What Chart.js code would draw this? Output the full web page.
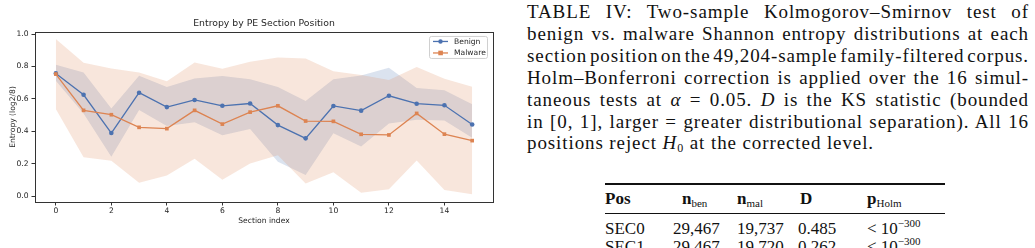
<!DOCTYPE html>
<html>
<head>
<meta charset="utf-8">
<script src="https://cdn.jsdelivr.net/npm/chart.js@4.4.0/dist/chart.umd.min.js"></script>
<style>
    body { margin: 0; background: #fff; width: 1035px; height: 248px; overflow: hidden; position: relative; }
    #chartBox { position: absolute; left: 0; top: 0; width: 510px; height: 248px; }
    #caption { position: absolute; left: 527px; top: 1px; width: 502px; font-family: 'Liberation Serif', serif; font-size: 19px; line-height: 21.9px; letter-spacing: 0.9px; color: #111; }
    #caption .ln { display: block; white-space: nowrap; }
    #caption .ln span { display: inline-block; white-space: nowrap; }
    #caption sub { font-size: 12px; vertical-align: -3px; line-height: 0; }
    .tbl { position: absolute; font-family: 'Liberation Serif', serif; font-size: 17px; line-height: 20px; color: #111; white-space: nowrap; }
    .tbl sub { font-size: 11px; vertical-align: -3px; line-height: 0; font-weight: normal; }
    .tbl sup { font-size: 11px; vertical-align: 7px; line-height: 0; }
    .rule { position: absolute; left: 605px; width: 340px; background: #111; }
</style>
</head>
<body>
<div id="chartBox"><canvas id="entropyChart" width="510" height="248"></canvas></div>

<div id="caption">
    <div class="ln j"><span>TABLE IV: Two-sample Kolmogorov–Smirnov test of</span></div>
    <div class="ln j"><span>benign vs. malware Shannon entropy distributions at each</span></div>
    <div class="ln j"><span>section position on the 49,204-sample family-filtered corpus.</span></div>
    <div class="ln j"><span>Holm–Bonferroni correction is applied over the 16 simul-</span></div>
    <div class="ln j"><span>taneous tests at <i>α</i> = 0.05. <i>D</i> is the KS statistic (bounded</span></div>
    <div class="ln j"><span>in [0, 1], larger = greater distributional separation). All 16</span></div>
    <div class="ln"><span>positions reject <i>H</i><sub>0</sub> at the corrected level.</span></div>
</div>

<div class="rule" style="top:183px;height:1.6px"></div>
<div class="rule" style="top:213px;height:1px"></div>
<div id="table"></div>

<script>
// Section positions and per-position entropy summaries
const sectionIdx = [0, 1, 2, 3, 4, 5, 6, 7, 8, 9, 10, 11, 12, 13, 14, 15];
const benignMean = [0.757, 0.625, 0.389, 0.638, 0.549, 0.593, 0.557, 0.571, 0.438, 0.356, 0.556, 0.527, 0.619, 0.570, 0.560, 0.442];
const benignUpper = [0.811, 0.762, 0.541, 0.743, 0.673, 0.726, 0.741, 0.721, 0.673, 0.586, 0.721, 0.744, 0.792, 0.667, 0.653, 0.566];
const benignLower = [0.711, 0.510, 0.243, 0.531, 0.432, 0.456, 0.375, 0.414, 0.212, 0.130, 0.387, 0.306, 0.447, 0.471, 0.467, 0.359];
const malwareMean = [0.753, 0.529, 0.502, 0.424, 0.416, 0.529, 0.444, 0.518, 0.557, 0.463, 0.461, 0.381, 0.377, 0.510, 0.382, 0.342];
const malwareUpper = [0.969, 0.823, 0.788, 0.763, 0.709, 0.825, 0.786, 0.829, 0.856, 0.849, 0.770, 0.747, 0.716, 0.797, 0.724, 0.675];
const malwareLower = [0.537, 0.239, 0.218, 0.082, 0.126, 0.230, 0.101, 0.200, 0.252, 0.078, 0.146, 0.020, 0.042, 0.220, 0.037, 0.011];

const xTicks = [0, 2, 4, 6, 8, 10, 12, 14];
const yTicks = [0.0, 0.2, 0.4, 0.6, 0.8, 1.0];

// Table rows
const tableHeader = ['<b>Pos</b>', '<b>n</b><sub>ben</sub>', '<b>n</b><sub>mal</sub>', '<b>D</b>', '<b>p</b><sub>Holm</sub>'];
const tableRows = [
    ['SEC0', '29,467', '19,737', '0.485', '&lt; 10<sup>−300</sup>'],
    ['SEC1', '29,467', '19,720', '0.262', '&lt; 10<sup>−300</sup>']
];
const headerLeft = [605, 682, 737, 800, 867];
const rowLeft = [605, 673, 737, 798, 867];

const BLUE = '#4c72b0';
const ORANGE = '#dd8452';

function toPoints(values) {
    return values.map((v, i) => ({ x: sectionIdx[i], y: v }));
}

// Stretch or squeeze word spacing so each justified line spans the column
function justifyCaption() {
    const width = document.getElementById('caption').clientWidth;
    document.querySelectorAll('#caption .j span').forEach(span => {
        const natural = span.getBoundingClientRect().width;
        const spaces = (span.textContent.match(/ /g) || []).length;
        if (spaces > 0) {
            span.style.wordSpacing = ((width - natural) / spaces) + 'px';
        }
    });
}

// Build the table as positioned text
function buildTable() {
    const table = document.getElementById('table');
    const rowCenters = [199, 229, 247];
    const allRows = [tableHeader].concat(tableRows);
    allRows.forEach((row, r) => {
        row.forEach((cell, c) => {
            const span = document.createElement('div');
            span.className = 'tbl';
            span.style.left = (r === 0 ? headerLeft[c] : rowLeft[c]) + 'px';
            span.style.top = (rowCenters[r] - 10) + 'px';
            span.innerHTML = cell;
            table.appendChild(span);
        });
    });
}

// Draws the axes frame and the in-plot legend box
const framePlugin = {
    id: 'frame',
    afterDraw(chart) {
        const ctx = chart.ctx;
        const a = chart.chartArea;
        ctx.save();
        ctx.strokeStyle = '#333';
        ctx.lineWidth = 1;
        ctx.strokeRect(Math.round(a.left) + 0.5, Math.round(a.top) + 0.5,
            Math.round(a.right - a.left), Math.round(a.bottom - a.top));

        // legend
        const boxW = 58, boxH = 22;
        const bx = a.right - 6 - boxW, by = a.top + 4;
        ctx.fillStyle = 'rgba(255,255,255,0.8)';
        ctx.strokeStyle = '#d0d0d0';
        ctx.beginPath();
        ctx.roundRect(bx + 0.5, by + 0.5, boxW, boxH, 2);
        ctx.fill();
        ctx.stroke();

        const items = [
            { text: 'Benign', color: BLUE, style: 'circle' },
            { text: 'Malware', color: ORANGE, style: 'rect' }
        ];
        ctx.font = '7.6px "DejaVu Sans"';
        ctx.textBaseline = 'middle';
        items.forEach((item, i) => {
            const y = by + 5.5 + i * 11.5;
            ctx.strokeStyle = item.color;
            ctx.fillStyle = item.color;
            ctx.lineWidth = 1.3;
            ctx.beginPath();
            ctx.moveTo(bx + 4, y);
            ctx.lineTo(bx + 19, y);
            ctx.stroke();
            if (item.style === 'circle') {
                ctx.beginPath();
                ctx.arc(bx + 11.5, y, 2.2, 0, Math.PI * 2);
                ctx.fill();
            } else {
                ctx.fillRect(bx + 9.3, y - 2.3, 4.6, 4.6);
            }
            ctx.fillStyle = '#262626';
            ctx.fillText(item.text, bx + 25, y + 0.5);
        });
        ctx.restore();
    }
};

document.addEventListener('DOMContentLoaded', function() {
    justifyCaption();
    buildTable();

    Chart.defaults.font.family = '"DejaVu Sans", sans-serif';
    Chart.defaults.color = '#262626';

    const ctx = document.getElementById('entropyChart').getContext('2d');
    new Chart(ctx, {
        type: 'line',
        data: {
            datasets: [
                {
                    label: 'Malware',
                    data: toPoints(malwareMean),
                    borderColor: ORANGE,
                    backgroundColor: ORANGE,
                    borderWidth: 1.3,
                    pointStyle: 'rect',
                    pointRadius: 2.6,
                    pointBorderWidth: 0,
                    fill: false,
                    order: 0
                },
                {
                    label: 'Benign',
                    data: toPoints(benignMean),
                    borderColor: BLUE,
                    backgroundColor: BLUE,
                    borderWidth: 1.3,
                    pointStyle: 'circle',
                    pointRadius: 2.3,
                    pointBorderWidth: 0,
                    fill: false,
                    order: 1
                },
                {
                    label: 'benign upper',
                    data: toPoints(benignUpper),
                    borderColor: 'transparent',
                    borderWidth: 0,
                    pointRadius: 0,
                    backgroundColor: 'rgba(76, 114, 176, 0.2)',
                    fill: '+1',
                    order: 3
                },
                {
                    label: 'benign lower',
                    data: toPoints(benignLower),
                    borderColor: 'transparent',
                    borderWidth: 0,
                    pointRadius: 0,
                    fill: false,
                    order: 3
                },
                {
                    label: 'malware upper',
                    data: toPoints(malwareUpper),
                    borderColor: 'transparent',
                    borderWidth: 0,
                    pointRadius: 0,
                    backgroundColor: 'rgba(221, 132, 82, 0.2)',
                    fill: '+1',
                    order: 2
                },
                {
                    label: 'malware lower',
                    data: toPoints(malwareLower),
                    borderColor: 'transparent',
                    borderWidth: 0,
                    pointRadius: 0,
                    fill: false,
                    order: 2
                }
            ]
        },
        options: {
            responsive: false,
            animation: false,
            devicePixelRatio: 1,
            layout: { padding: { left: 0, right: 17, top: 0, bottom: 20 } },
            plugins: {
                legend: { display: false },
                tooltip: { enabled: false },
                title: {
                    display: true,
                    text: 'Entropy by PE Section Position',
                    fullSize: false,
                    font: { size: 9.3, weight: 'normal' },
                    padding: { top: 18, bottom: 2.8 }
                }
            },
            scales: {
                x: {
                    type: 'linear',
                    min: -0.75,
                    max: 15.75,
                    afterBuildTicks: scale => { scale.ticks = xTicks.map(v => ({ value: v })); },
                    afterFit: scale => { scale.height = 26; },
                    grid: { display: true, drawOnChartArea: false, tickLength: 3.5, color: '#333' },
                    border: { display: false },
                    ticks: { font: { size: 7.6 }, padding: 1, maxRotation: 0 },
                    title: { display: true, text: 'Section index', font: { size: 7.6 }, padding: { top: 0, bottom: 2 } }
                },
                y: {
                    min: -0.037,
                    max: 1.013,
                    afterBuildTicks: scale => { scale.ticks = yTicks.map(v => ({ value: v })); },
                    afterFit: scale => { scale.width = 35; },
                    grid: { display: true, drawOnChartArea: false, tickLength: 3.5, color: '#333' },
                    border: { display: false },
                    ticks: { font: { size: 7.6 }, padding: 3, callback: v => v.toFixed(1) },
                    title: { display: true, text: 'Entropy (log2/8)', font: { size: 7.6 }, padding: { top: 8, bottom: 0 } }
                }
            }
        },
        plugins: [framePlugin]
    });
});
</script>
</body>
</html>
